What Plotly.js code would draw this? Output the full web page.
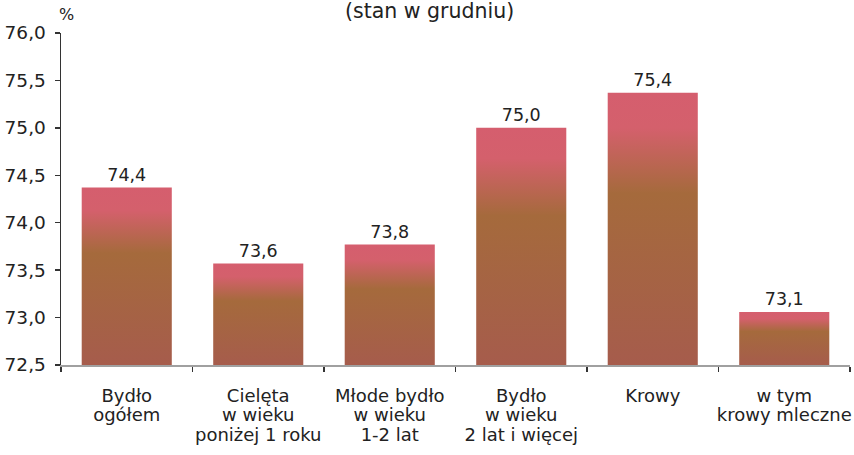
<!DOCTYPE html>
<html>
<head>
<meta charset="utf-8">
<script src="https://cdn.plot.ly/plotly-3.0.1.min.js"></script>
<style>
html,body{margin:0;padding:0;background:#fff;}
#chart{width:854px;height:455px;}
</style>
</head>
<body>
<div id="chart"></div>
<script>
var categories = [
  "Bydło<br>ogółem",
  "Cielęta<br>w wieku<br>poniżej 1 roku",
  "Młode bydło<br>w wieku<br>1-2 lat",
  "Bydło<br>w wieku<br>2 lat i więcej",
  "Krowy",
  "w tym<br>krowy mleczne"
];
var values = [74.37, 73.57, 73.77, 75.0, 75.37, 73.06];
var valueLabels = ["74,4", "73,6", "73,8", "75,0", "75,4", "73,1"];
var yTicks = [72.5, 73.0, 73.5, 74.0, 74.5, 75.0, 75.5, 76.0];
var yMin = 72.5, yMax = 76.0;

var FONT = "DejaVu Sans, Liberation Sans, Arial, sans-serif";

var trace = {
  type: "bar",
  x: categories,
  y: values.map(function(v){ return v - yMin; }),
  base: yMin,
  text: valueLabels,
  texttemplate: "%{text}",
  textposition: "outside",
  cliponaxis: false,
  textfont: {family: FONT, size: 17.5, color: "#222"},
  marker: {color: "#a9654a", line: {width: 0}},
  hoverinfo: "skip"
};

var layout = {
  width: 854,
  height: 455,
  margin: {l: 61, r: 4, t: 33, b: 90},
  paper_bgcolor: "#fff",
  plot_bgcolor: "#fff",
  separators: ", ",
  bargap: 0.315,
  showlegend: false,
  font: {family: FONT, color: "#222"},
  title: {
    text: "(stan w grudniu)",
    font: {family: FONT, size: 20.5, color: "#222"},
    x: 0.503, xref: "container", xanchor: "center",
    y: 0.976, yref: "container", yanchor: "middle"
  },
  xaxis: {
    type: "category",
    showline: true,
    linecolor: "#a0a0a0",
    linewidth: 2,
    ticks: "outside",
    tickson: "boundaries",
    ticklen: 5,
    tickwidth: 1.5,
    tickcolor: "#333",
    tickangle: 0,
    tickfont: {family: FONT, size: 18, color: "#222"},
    ticklabelstandoff: 13,
    showgrid: false,
    zeroline: false,
    fixedrange: true
  },
  yaxis: {
    range: [yMin, yMax],
    tickvals: yTicks,
    tickformat: ".1f",
    showline: true,
    linecolor: "#333",
    linewidth: 1.5,
    ticks: "outside",
    ticklen: 5,
    tickwidth: 1.5,
    tickcolor: "#333",
    tickfont: {family: FONT, size: 18.5, color: "#222"},
    ticklabelstandoff: 5,
    showgrid: false,
    zeroline: false,
    fixedrange: true
  },
  annotations: [{
    text: "%",
    xref: "paper", yref: "paper",
    x: 0, y: 1,
    xanchor: "center", yanchor: "middle",
    xshift: 5, yshift: 19,
    showarrow: false,
    font: {family: FONT, size: 16, color: "#222"}
  }]
};

Plotly.newPlot("chart", [trace], layout, {staticPlot: true, displayModeBar: false}).then(function(gd){
  var NS = "http://www.w3.org/2000/svg";
  var svg = gd.querySelector("svg.main-svg");
  var defs = svg.querySelector("defs");
  if (!defs) { defs = document.createElementNS(NS, "defs"); svg.insertBefore(defs, svg.firstChild); }
  var grad = document.createElementNS(NS, "linearGradient");
  grad.setAttribute("id", "barGrad");
  grad.setAttribute("x1", "0"); grad.setAttribute("y1", "0");
  grad.setAttribute("x2", "0"); grad.setAttribute("y2", "1");
  [["0", "#d55e6e"], ["0.13", "#d4606c"], ["0.37", "#a56a3c"], ["1", "#a65c4c"]].forEach(function(s){
    var st = document.createElementNS(NS, "stop");
    st.setAttribute("offset", s[0]);
    st.setAttribute("stop-color", s[1]);
    grad.appendChild(st);
  });
  defs.appendChild(grad);
  gd.querySelectorAll(".bars .point path").forEach(function(p){
    p.style.fill = "url(#barGrad)";
  });
  // tighter line spacing for multi-line category labels
  gd.querySelectorAll(".xtick text tspan.line").forEach(function(t){
    var dy = t.getAttribute("dy");
    if (dy && /em$/.test(dy)) {
      var n = parseFloat(dy);
      if (n > 0) t.setAttribute("dy", (n * 1.1 / 1.3).toFixed(3) + "em");
    }
  });
});
</script>
</body>
</html>
